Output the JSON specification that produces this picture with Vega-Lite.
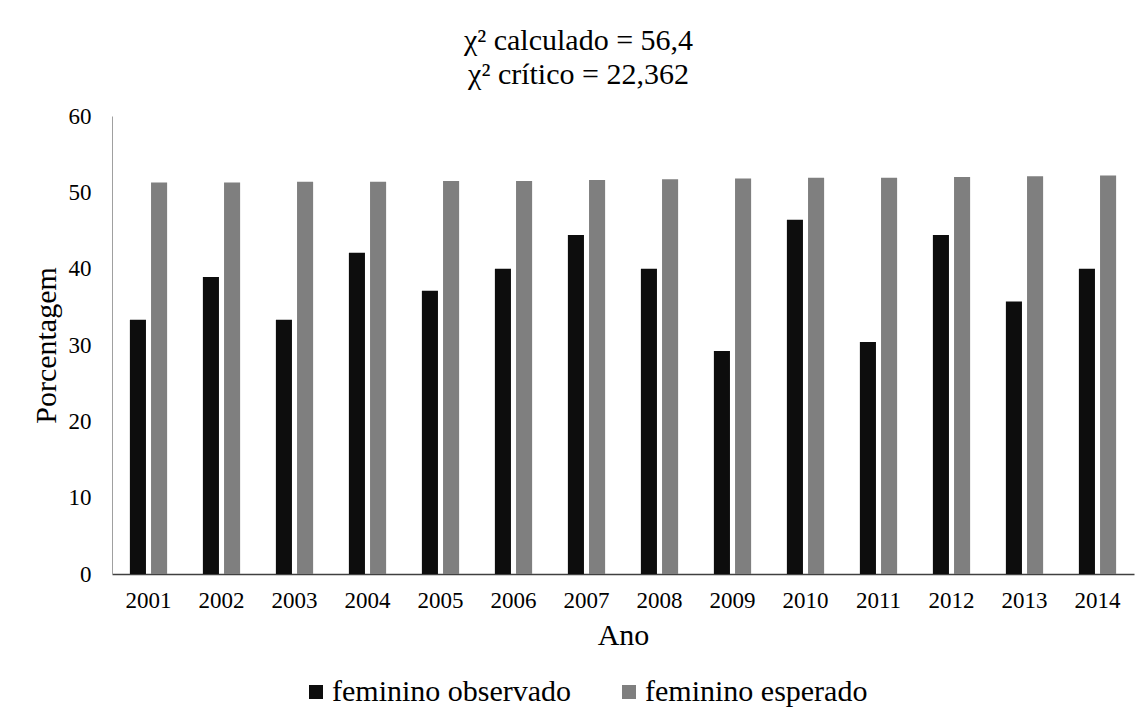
{
  "$schema": "https://vega.github.io/schema/vega-lite/v6.json",
  "width": 1022,
  "height": 458,
  "padding": {"left": 31, "top": 26, "right": 3, "bottom": 0},
  "background": "white",
  "title": {
    "text": ["χ² calculado = 56,4", "χ² crítico = 22,362"],
    "font": "Liberation Serif",
    "fontSize": 30,
    "fontWeight": "normal",
    "lineHeight": 34,
    "anchor": "middle",
    "frame": "bounds",
    "offset": 15,
    "dx": -4,
    "color": "black"
  },
  "data": {
    "values": [
      {"ano": "2001", "serie": "feminino observado", "valor": 33.3},
      {"ano": "2001", "serie": "feminino esperado", "valor": 51.3},
      {"ano": "2002", "serie": "feminino observado", "valor": 38.9},
      {"ano": "2002", "serie": "feminino esperado", "valor": 51.3},
      {"ano": "2003", "serie": "feminino observado", "valor": 33.3},
      {"ano": "2003", "serie": "feminino esperado", "valor": 51.4},
      {"ano": "2004", "serie": "feminino observado", "valor": 42.1},
      {"ano": "2004", "serie": "feminino esperado", "valor": 51.4},
      {"ano": "2005", "serie": "feminino observado", "valor": 37.1},
      {"ano": "2005", "serie": "feminino esperado", "valor": 51.5},
      {"ano": "2006", "serie": "feminino observado", "valor": 40.0},
      {"ano": "2006", "serie": "feminino esperado", "valor": 51.5},
      {"ano": "2007", "serie": "feminino observado", "valor": 44.4},
      {"ano": "2007", "serie": "feminino esperado", "valor": 51.6},
      {"ano": "2008", "serie": "feminino observado", "valor": 40.0},
      {"ano": "2008", "serie": "feminino esperado", "valor": 51.7},
      {"ano": "2009", "serie": "feminino observado", "valor": 29.2},
      {"ano": "2009", "serie": "feminino esperado", "valor": 51.8},
      {"ano": "2010", "serie": "feminino observado", "valor": 46.4},
      {"ano": "2010", "serie": "feminino esperado", "valor": 51.9},
      {"ano": "2011", "serie": "feminino observado", "valor": 30.4},
      {"ano": "2011", "serie": "feminino esperado", "valor": 51.9},
      {"ano": "2012", "serie": "feminino observado", "valor": 44.4},
      {"ano": "2012", "serie": "feminino esperado", "valor": 52.0},
      {"ano": "2013", "serie": "feminino observado", "valor": 35.7},
      {"ano": "2013", "serie": "feminino esperado", "valor": 52.1},
      {"ano": "2014", "serie": "feminino observado", "valor": 40.0},
      {"ano": "2014", "serie": "feminino esperado", "valor": 52.2}
    ]
  },
  "mark": {"type": "bar"},
  "encoding": {
    "x": {
      "field": "ano",
      "type": "ordinal",
      "scale": {"paddingInner": 0.49, "paddingOuter": 0.245},
      "axis": {
        "title": "Ano",
        "labelAngle": 0,
        "labelFontSize": 23,
        "labelPadding": 15,
        "titleFontSize": 30,
        "titlePadding": 8,
        "domainColor": "#404040",
        "domainWidth": 1.5
      }
    },
    "xOffset": {
      "field": "serie",
      "sort": ["feminino observado", "feminino esperado"],
      "scale": {"paddingInner": 0.24, "paddingOuter": 0}
    },
    "y": {
      "field": "valor",
      "type": "quantitative",
      "scale": {"domain": [0, 60]},
      "axis": {
        "title": "Porcentagem",
        "values": [0, 10, 20, 30, 40, 50, 60],
        "grid": false,
        "labelFontSize": 23,
        "labelPadding": 21,
        "titleFontSize": 30,
        "titlePadding": 7,
        "domainColor": "#a0a0a0",
        "domainWidth": 1
      }
    },
    "color": {
      "field": "serie",
      "type": "nominal",
      "scale": {
        "domain": ["feminino observado", "feminino esperado"],
        "range": ["#0d0d0d", "#7f7f7f"]
      },
      "legend": {
        "title": null,
        "orient": "none",
        "legendX": 189,
        "legendY": 561,
        "direction": "horizontal",
        "symbolType": "square",
        "symbolSize": 196,
        "symbolStrokeWidth": 0,
        "labelFont": "Liberation Serif",
        "labelFontSize": 30,
        "labelColor": "black",
        "labelLimit": 400,
        "labelOffset": 1,
        "columnPadding": 42
      }
    }
  },
  "config": {
    "view": {"stroke": null},
    "axis": {
      "labelFont": "Liberation Serif",
      "titleFont": "Liberation Serif",
      "labelColor": "black",
      "titleColor": "black",
      "titleFontWeight": "normal",
      "ticks": false,
      "tickSize": 0
    }
  }
}
